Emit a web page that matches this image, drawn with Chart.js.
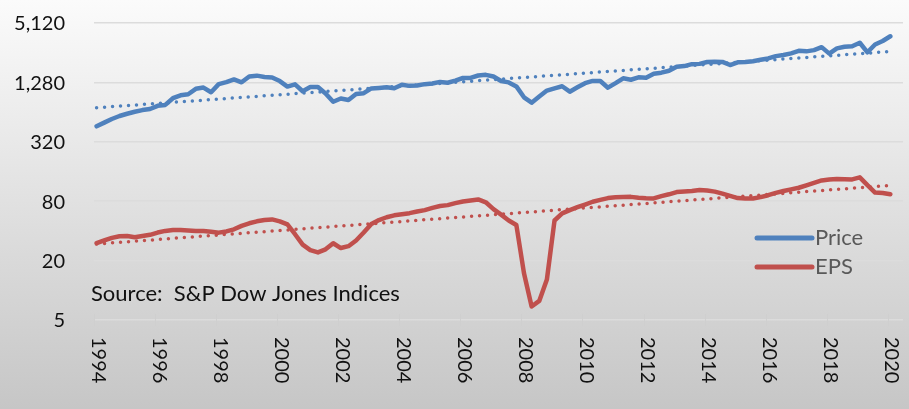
<!DOCTYPE html>
<html>
<head>
<meta charset="utf-8">
<script src="https://cdn.jsdelivr.net/npm/chart.js@4"></script>
<style>
  body { margin: 0; background: linear-gradient(#fbfbfb, #c6c6c6); width: 909px; height: 409px; overflow: hidden; }
  canvas { display: block; }
</style>
</head>
<body>
<canvas id="myChart" width="909" height="409"></canvas>
<script>
// quarterly closes, 1994 Q4 .. 2020 Q4
const price = [
  459.27,
  500.71, 544.75, 584.41, 615.93,
  645.50, 670.63, 687.31, 740.74,
  757.12, 885.14, 947.28, 970.43,
  1101.75, 1133.84, 1017.01, 1229.23,
  1286.37, 1372.71, 1282.71, 1469.25,
  1498.58, 1454.60, 1436.51, 1320.28,
  1160.33, 1224.42, 1040.94, 1148.08,
  1147.39, 989.82, 815.28, 879.82,
  848.18, 974.50, 995.97, 1111.92,
  1126.21, 1140.84, 1114.58, 1211.92,
  1180.59, 1191.33, 1228.81, 1248.29,
  1294.83, 1270.20, 1335.85, 1418.30,
  1420.86, 1503.35, 1526.75, 1468.36,
  1322.70, 1280.00, 1166.36, 903.25,
  797.87, 919.32, 1057.08, 1115.10,
  1169.43, 1030.71, 1141.20, 1257.64,
  1325.83, 1320.64, 1131.42, 1257.60,
  1408.47, 1362.16, 1440.67, 1426.19,
  1569.19, 1606.28, 1681.55, 1848.36,
  1872.34, 1960.23, 1972.29, 2058.90,
  2067.89, 2063.11, 1920.03, 2043.94,
  2059.74, 2098.86, 2168.27, 2238.83,
  2362.72, 2423.41, 2519.36, 2673.61,
  2640.87, 2718.37, 2913.98, 2506.85,
  2834.40, 2941.76, 2976.74, 3230.78,
  2584.59, 3100.29, 3363.00, 3756.07
];

// trailing 12 month EPS, same quarters
const eps = [
  30,
  32, 34, 35.3, 35.5,
  34.5, 35.5, 36.5, 38.5,
  40, 40.8, 40.8, 40.3,
  39.8, 39.8, 39.2, 38.4,
  39.5, 41.5, 45, 47.8,
  50, 51.5, 52.3, 50,
  46.5, 37, 29, 25.5,
  24.2, 26, 30, 26.8,
  28, 32, 38.5, 47,
  51.5, 55, 57.5, 59,
  60.5, 62.8, 65, 68.5,
  71.5, 73, 76.5, 79.5,
  81.5, 83.4, 78, 66.5,
  58.5, 51, 45.9, 14.88,
  6.86, 7.81, 12.84, 50.97,
  60.2, 65, 69.5, 74,
  79, 82.5, 86, 87.5,
  88.3, 88.5, 86.5, 85.5,
  85.3, 90, 94, 99,
  100.5, 101.5, 104, 102.5,
  100, 95.5, 90.5, 86,
  85.3, 85.3, 88, 92,
  97, 101.5, 105.5, 109.5,
  116, 123, 130, 132.5,
  134, 133.5, 133, 139.5,
  116.3, 98, 97, 94.1
];

const yTicks = [5, 20, 80, 320, 1280, 5120];
const xTicks = [1994, 1996, 1998, 2000, 2002, 2004, 2006, 2008, 2010, 2012, 2014, 2016, 2018, 2020];

const firstPos = 1994.085;   // where the first quarter sits on the year axis
const quarterStep = 0.25;

const blue = "#4f81bd";
const red = "#c0504d";
const font = "Lato, 'DejaVu Sans', sans-serif";

function toPoints(vals) {
  return vals.map((v, i) => ({ x: firstPos + i * quarterStep, y: v }));
}

// exponential trend (least squares on ln), like the spreadsheet trendline
function expTrend(vals) {
  const n = vals.length;
  let sx = 0, sy = 0, sxx = 0, sxy = 0;
  vals.forEach((v, i) => {
    const l = Math.log(v);
    sx += i; sy += l; sxx += i * i; sxy += i * l;
  });
  const b = (n * sxy - sx * sy) / (n * sxx - sx * sx);
  const a = (sy - b * sx) / n;
  return vals.map((_, i) => Math.exp(a + b * i));
}

const extras = {
  id: "extras",
  afterDraw(chart) {
    const { ctx, chartArea } = chart;
    const x = chart.scales.x;
    const y = chart.scales.y;
    ctx.save();

    // tick marks across the bottom axis
    ctx.strokeStyle = "#cfcfcf";
    ctx.lineWidth = 1;
    xTicks.forEach((yr) => {
      const px = Math.round(x.getPixelForValue(yr)) + 0.5;
      ctx.beginPath();
      ctx.moveTo(px, chartArea.bottom - 6);
      ctx.lineTo(px, chartArea.bottom + 6);
      ctx.stroke();
    });

    ctx.fillStyle = "#111";
    ctx.font = "20px " + font;

    // value labels on the left
    ctx.textAlign = "right";
    ctx.textBaseline = "middle";
    yTicks.forEach((v) => {
      ctx.fillText(v.toLocaleString("en-US"), chartArea.left - 29, y.getPixelForValue(v) + 1);
    });

    // year labels, turned to read top to bottom
    ctx.textAlign = "left";
    xTicks.forEach((yr) => {
      const px = x.getPixelForValue(yr);
      ctx.save();
      ctx.translate(px + 4, chartArea.bottom + 17);
      ctx.rotate(Math.PI / 2);
      ctx.fillText(String(yr), 0, 0);
      ctx.restore();
    });

    // source note
    ctx.font = "22px " + font;
    ctx.textBaseline = "alphabetic";
    ctx.fillText("Source:  S&P Dow Jones Indices", chartArea.left - 3, 301);

    // legend
    const items = [
      { label: "Price", color: blue, y: 238 },
      { label: "EPS", color: red, y: 267 },
    ];
    ctx.lineCap = "round";
    ctx.lineWidth = 5;
    ctx.textBaseline = "middle";
    ctx.fillStyle = "#595959";
    items.forEach((it) => {
      ctx.strokeStyle = it.color;
      ctx.beginPath();
      ctx.moveTo(757, it.y);
      ctx.lineTo(812, it.y);
      ctx.stroke();
      ctx.fillText(it.label, 815, it.y);
    });

    ctx.restore();
  },
};

const ctx = document.getElementById("myChart").getContext("2d");

new Chart(ctx, {
  type: "line",
  data: {
    datasets: [
      {
        label: "Price",
        data: toPoints(price),
        borderColor: blue,
        borderWidth: 4.5,
        borderJoinStyle: "round",
        borderCapStyle: "round",
        pointRadius: 0,
        tension: 0,
      },
      {
        label: "EPS",
        data: toPoints(eps),
        borderColor: red,
        borderWidth: 4.5,
        borderJoinStyle: "round",
        borderCapStyle: "round",
        pointRadius: 0,
        tension: 0,
      },
      {
        label: "Price trend",
        data: toPoints(expTrend(price)),
        borderColor: blue,
        borderWidth: 3.5,
        borderDash: [0, 8],
        borderCapStyle: "round",
        pointRadius: 0,
      },
      {
        label: "EPS trend",
        data: toPoints(expTrend(eps)),
        borderColor: red,
        borderWidth: 3.5,
        borderDash: [0, 8],
        borderCapStyle: "round",
        pointRadius: 0,
      },
    ],
  },
  options: {
    responsive: false,
    animation: false,
    layout: { padding: { top: 23, right: 6, left: 0, bottom: 0 } },
    plugins: {
      legend: { display: false },
      tooltip: { enabled: false },
    },
    scales: {
      x: {
        type: "linear",
        min: 1994,
        max: 2020.5,
        grid: { display: false },
        border: { display: false },
        ticks: { display: false },
        afterFit: (scale) => { scale.height = 89; },
      },
      y: {
        type: "logarithmic",
        min: 5,
        max: 5120,
        afterBuildTicks: (scale) => {
          scale.ticks = yTicks.map((v) => ({ value: v }));
        },
        afterFit: (scale) => { scale.width = 94; },
        grid: { color: "#dcdcdc", lineWidth: 1.5, drawTicks: false },
        border: { display: false },
        ticks: { display: false },
      },
    },
  },
  plugins: [extras],
});
</script>
</body>
</html>
